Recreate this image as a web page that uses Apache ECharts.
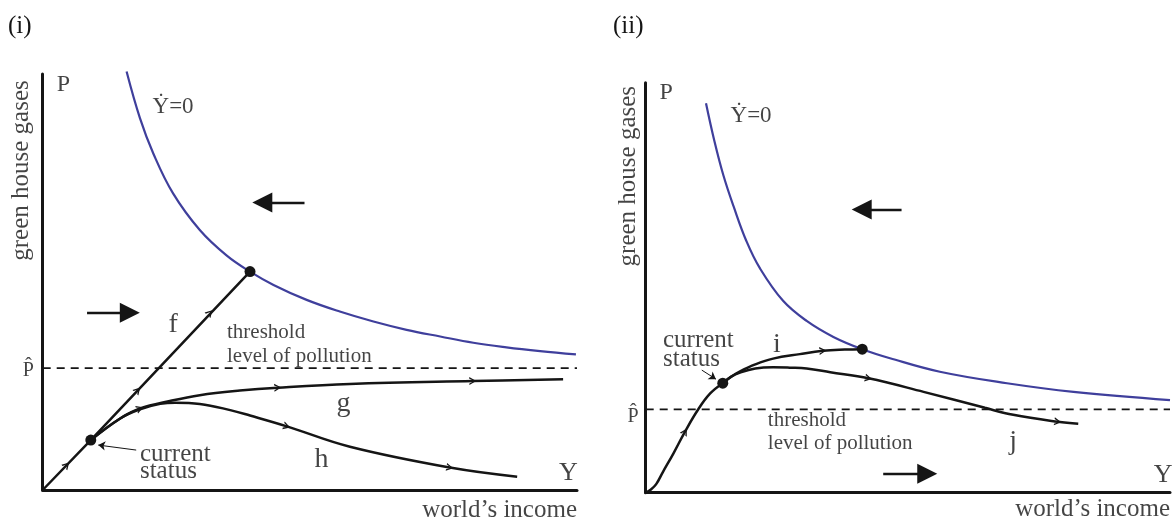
<!DOCTYPE html>
<html>
<head>
<meta charset="utf-8">
<script src="https://cdn.jsdelivr.net/npm/echarts@6/dist/echarts.min.js"></script>
<style>
  html, body { margin: 0; padding: 0; background: #fff; }
  #c { width: 1174px; height: 520px; }
</style>
</head>
<body>
<div id="c"></div>
<script>
// ---------- Panel (i) data (axis units 0..100) ----------
const blueI = [[15.7,100.6],[18.2,89.4],[20.7,80.9],[24.4,71.3],[29.4,62.5],[34.4,56.4],[38.8,52.5],[43.2,49.3],[49.4,45.7],[55.6,42.9],[61.9,40.5],[68.1,38.5],[74.4,36.9],[80.6,35.4],[86.8,34.3],[93.1,33.4],[99.8,32.6]];
const pathF = [[0,0],[9.0,12.0],[38.8,52.5]];
const pathG = [[9.0,12.0],[14.5,17.2],[18.2,19.6],[23.8,21.4],[29.4,22.8],[36.9,23.9],[44.0,24.6],[57.5,25.5],[80.5,26.2],[97.4,26.6]];
const pathH = [[9.0,12.0],[14.5,17.2],[18.2,19.4],[22.0,20.7],[24.8,21.0],[29.4,20.7],[35.1,19.2],[38.8,17.9],[45.7,15.3],[57.5,10.4],[76.2,5.4],[88.8,3.2]];
const thresholdI = 29.3;
const dotsI = [[9.0,12.0],[38.8,52.5]];
// [x, y, direction angle in degrees]
const markersI = [[4.5,6.0,47],[17.8,24.0,47],[31.3,42.6,47],[18.2,19.6,21],[44.0,24.6,3],[80.5,26.2,1],[45.7,15.3,-17],[76.2,5.4,-10]];
// shaft start -> head centre
const bigArrowsI = [[[49.0,69.1],[41.1,69.1]], [[8.3,42.6],[16.3,42.6]]];
const pointerI = [[17.5,9.6],[10.4,10.8]];
// [text, x, y, style]
const labelsI = [
  ['green house gases', -3.9, 76.8, 'axisV'],
  ['P', 3.9, 97.4, 'P'],
  ['Ẏ=0', 24.4, 92.1, 'eq'],
  ['f', 24.4, 39.7, 'letter'],
  ['threshold\nlevel of pollution', 34.5, 34.9, 'thrI'],
  ['g', 56.3, 20.8, 'letter'],
  ['h', 52.2, 7.2, 'letter'],
  ['current\nstatus', 18.2, 6.5, 'cur'],
  ['Y', 98.4, 4.0, 'Y'],
  ['world’s income', 100, -4.8, 'axisH'],
  ['P̂', -2.7, 28.6, 'phat']
];

// ---------- Panel (ii) data ----------
const blueII = [[11.5,95.0],[13.1,85.8],[14.8,77.5],[16.8,69.7],[19.2,61.4],[21.8,54.7],[26.2,46.8],[30.7,41.9],[35.8,38.0],[41.3,35.0],[46.6,32.8],[56.1,29.5],[68.9,26.7],[81.6,24.6],[100,22.6]];
const pathRise = [[0,0],[1.0,0.8],[2.0,2.1],[3.3,5.1],[5.3,9.6],[7.5,14.9],[10.0,20.3],[12.3,24.2],[14.7,26.7]];
const pathI = [[14.7,26.7],[16.3,28.3],[18.0,29.6],[20.9,31.3],[24.3,32.7],[29.4,33.8],[33.8,34.6],[38.0,34.9],[41.3,35.0]];
const pathJ = [[14.7,26.7],[16.3,28.3],[18.0,29.3],[20.9,30.3],[24.3,30.6],[27.5,30.5],[30.7,30.3],[35.2,29.4],[42.5,27.9],[53.0,24.6],[64.7,20.7],[70.1,19.0],[78.6,17.3],[82.5,16.8]];
const thresholdII = 20.3;
const dotsII = [[14.7,26.7],[41.3,35.0]];
const markersII = [[7.5,14.9,60],[33.8,34.6,4],[42.5,27.9,-13],[78.6,17.3,-8]];
const bigArrowsII = [[[48.8,69.1],[41.2,69.1]], [[45.3,4.6],[53.7,4.6]]];
const pointerII = [[10.7,29.9],[13.4,27.7]];
const labelsII = [
  ['green house gases', -3.2, 77.2, 'axisV'],
  ['P', 3.9, 97.6, 'P'],
  ['Ẏ=0', 20.1, 91.9, 'eq'],
  ['current\nstatus', 3.3, 34.9, 'curII'],
  ['i', 25.0, 36.0, 'letter'],
  ['threshold\nlevel of pollution', 23.3, 14.9, 'thrII'],
  ['j', 70.1, 12.4, 'letter'],
  ['Y', 98.7, 4.3, 'Y'],
  ['world’s income', 100, -4.2, 'axisH'],
  ['P̂', -2.4, 18.5, 'phat']
];

const panelTitles = ['(i)', '(ii)'];

// ---------- styling ----------
const FONT = '"Liberation Serif", "DejaVu Serif", serif';
const INK = '#151515';
const BLUE = '#3f3f9c';
const labelStyles = {
  axisV: { fontSize: 25, rotate: 90, align: 'center' },
  axisH: { fontSize: 25, align: 'right' },
  P: { fontSize: 24, align: 'center' },
  eq: { fontSize: 23, align: 'center' },
  letter: { fontSize: 28, align: 'center' },
  thrI: { fontSize: 21, align: 'left', lineHeight: 24 },
  thrII: { fontSize: 21, align: 'left', lineHeight: 23 },
  cur: { fontSize: 25, align: 'left', lineHeight: 17 },
  curII: { fontSize: 25, align: 'left', lineHeight: 19 },
  Y: { fontSize: 26, align: 'center' },
  phat: { fontSize: 20, align: 'center' }
};

const CHEVRON = 'path://M0,0 L10,5 L0,10 L0,8 L7,5 L0,2 Z';
const HEAD = 'path://M5,0 L10,20 L0,20 Z';

function axisCommon(idx) {
  return {
    type: 'value', min: 0, max: 100, gridIndex: idx,
    axisLine: { show: true, onZero: false, lineStyle: { color: INK, width: 3 } },
    axisTick: { show: false }, axisLabel: { show: false }, splitLine: { show: false }
  };
}

function panelSeries(k, d) {
  const ax = { xAxisIndex: k, yAxisIndex: k };
  const curve = (data, color, width, smooth) => Object.assign({
    type: 'line', data: data, smooth: smooth, showSymbol: false, symbol: 'none', clip: false,
    lineStyle: { color: color, width: width }, z: 3, silent: true
  }, ax);
  const s = [];
  s.push(curve(d.blue, BLUE, 2.2, 0.4));
  d.curves.forEach(c => s.push(curve(c.data, INK, 2.5, c.smooth)));
  s.push(Object.assign({
    type: 'line', data: [[0, d.threshold], [100, d.threshold]], showSymbol: false, symbol: 'none',
    lineStyle: { color: INK, width: 1.8, type: [8, 6] }, z: 2, clip: false
  }, ax));
  s.push(Object.assign({
    type: 'scatter', data: d.dots, symbol: 'circle', symbolSize: 11,
    itemStyle: { color: INK, opacity: 1 }, z: 6, clip: false
  }, ax));
  s.push(Object.assign({
    type: 'scatter', symbol: CHEVRON, symbolSize: [7, 8], z: 5, clip: false,
    itemStyle: { color: INK, opacity: 1 },
    data: d.markers.map(m => ({ value: [m[0], m[1]], symbolRotate: m[2] }))
  }, ax));
  s.push(Object.assign({
    type: 'lines', coordinateSystem: 'cartesian2d', z: 4,
    symbol: ['none', HEAD], symbolSize: [12, 20],
    lineStyle: { color: INK, width: 2.4, opacity: 1 },
    data: d.arrows.map(a => ({ coords: a }))
  }, ax));
  s.push(Object.assign({
    type: 'lines', coordinateSystem: 'cartesian2d', z: 4,
    symbol: ['none', 'arrow'], symbolSize: [5, 7],
    lineStyle: { color: INK, width: 1, opacity: 1 },
    data: [{ coords: d.pointer }]
  }, ax));
  s.push(Object.assign({
    type: 'scatter', symbolSize: 0, z: 7, clip: false, silent: true,
    data: d.labels.map(l => {
      const st = labelStyles[l[3]];
      return {
        value: [l[1], l[2]],
        label: Object.assign({
          show: true, position: 'inside', formatter: l[0], verticalAlign: 'middle',
          fontFamily: FONT, color: INK
        }, st)
      };
    })
  }, ax));
  return s;
}

const chart = echarts.init(document.getElementById('c'), null, { renderer: 'canvas' });
const series = [].concat(
  panelSeries(0, {
    blue: blueI,
    curves: [{ data: pathF, smooth: false }, { data: pathG, smooth: 0.4 }, { data: pathH, smooth: 0.4 }],
    threshold: thresholdI, dots: dotsI, markers: markersI, arrows: bigArrowsI, pointer: pointerI, labels: labelsI
  }),
  panelSeries(1, {
    blue: blueII,
    curves: [{ data: pathRise, smooth: 0.4 }, { data: pathI, smooth: 0.4 }, { data: pathJ, smooth: 0.4 }],
    threshold: thresholdII, dots: dotsII, markers: markersII, arrows: bigArrowsII, pointer: pointerII, labels: labelsII
  })
);

chart.setOption({
  animation: false,
  backgroundColor: '#ffffff',
  grid: [
    { left: 42.7, top: 74, width: 534.3, height: 416 },
    { left: 645.7, top: 82.7, width: 524.3, height: 410 }
  ],
  xAxis: [axisCommon(0), axisCommon(1)],
  yAxis: [axisCommon(0), axisCommon(1)],
  graphic: [
    { type: 'text', left: 8, top: 14, style: { text: panelTitles[0], font: '25px ' + FONT, fill: INK } },
    { type: 'text', left: 613, top: 14, style: { text: panelTitles[1], font: '25px ' + FONT, fill: INK } }
  ],
  series: series
});
</script>
</body>
</html>
